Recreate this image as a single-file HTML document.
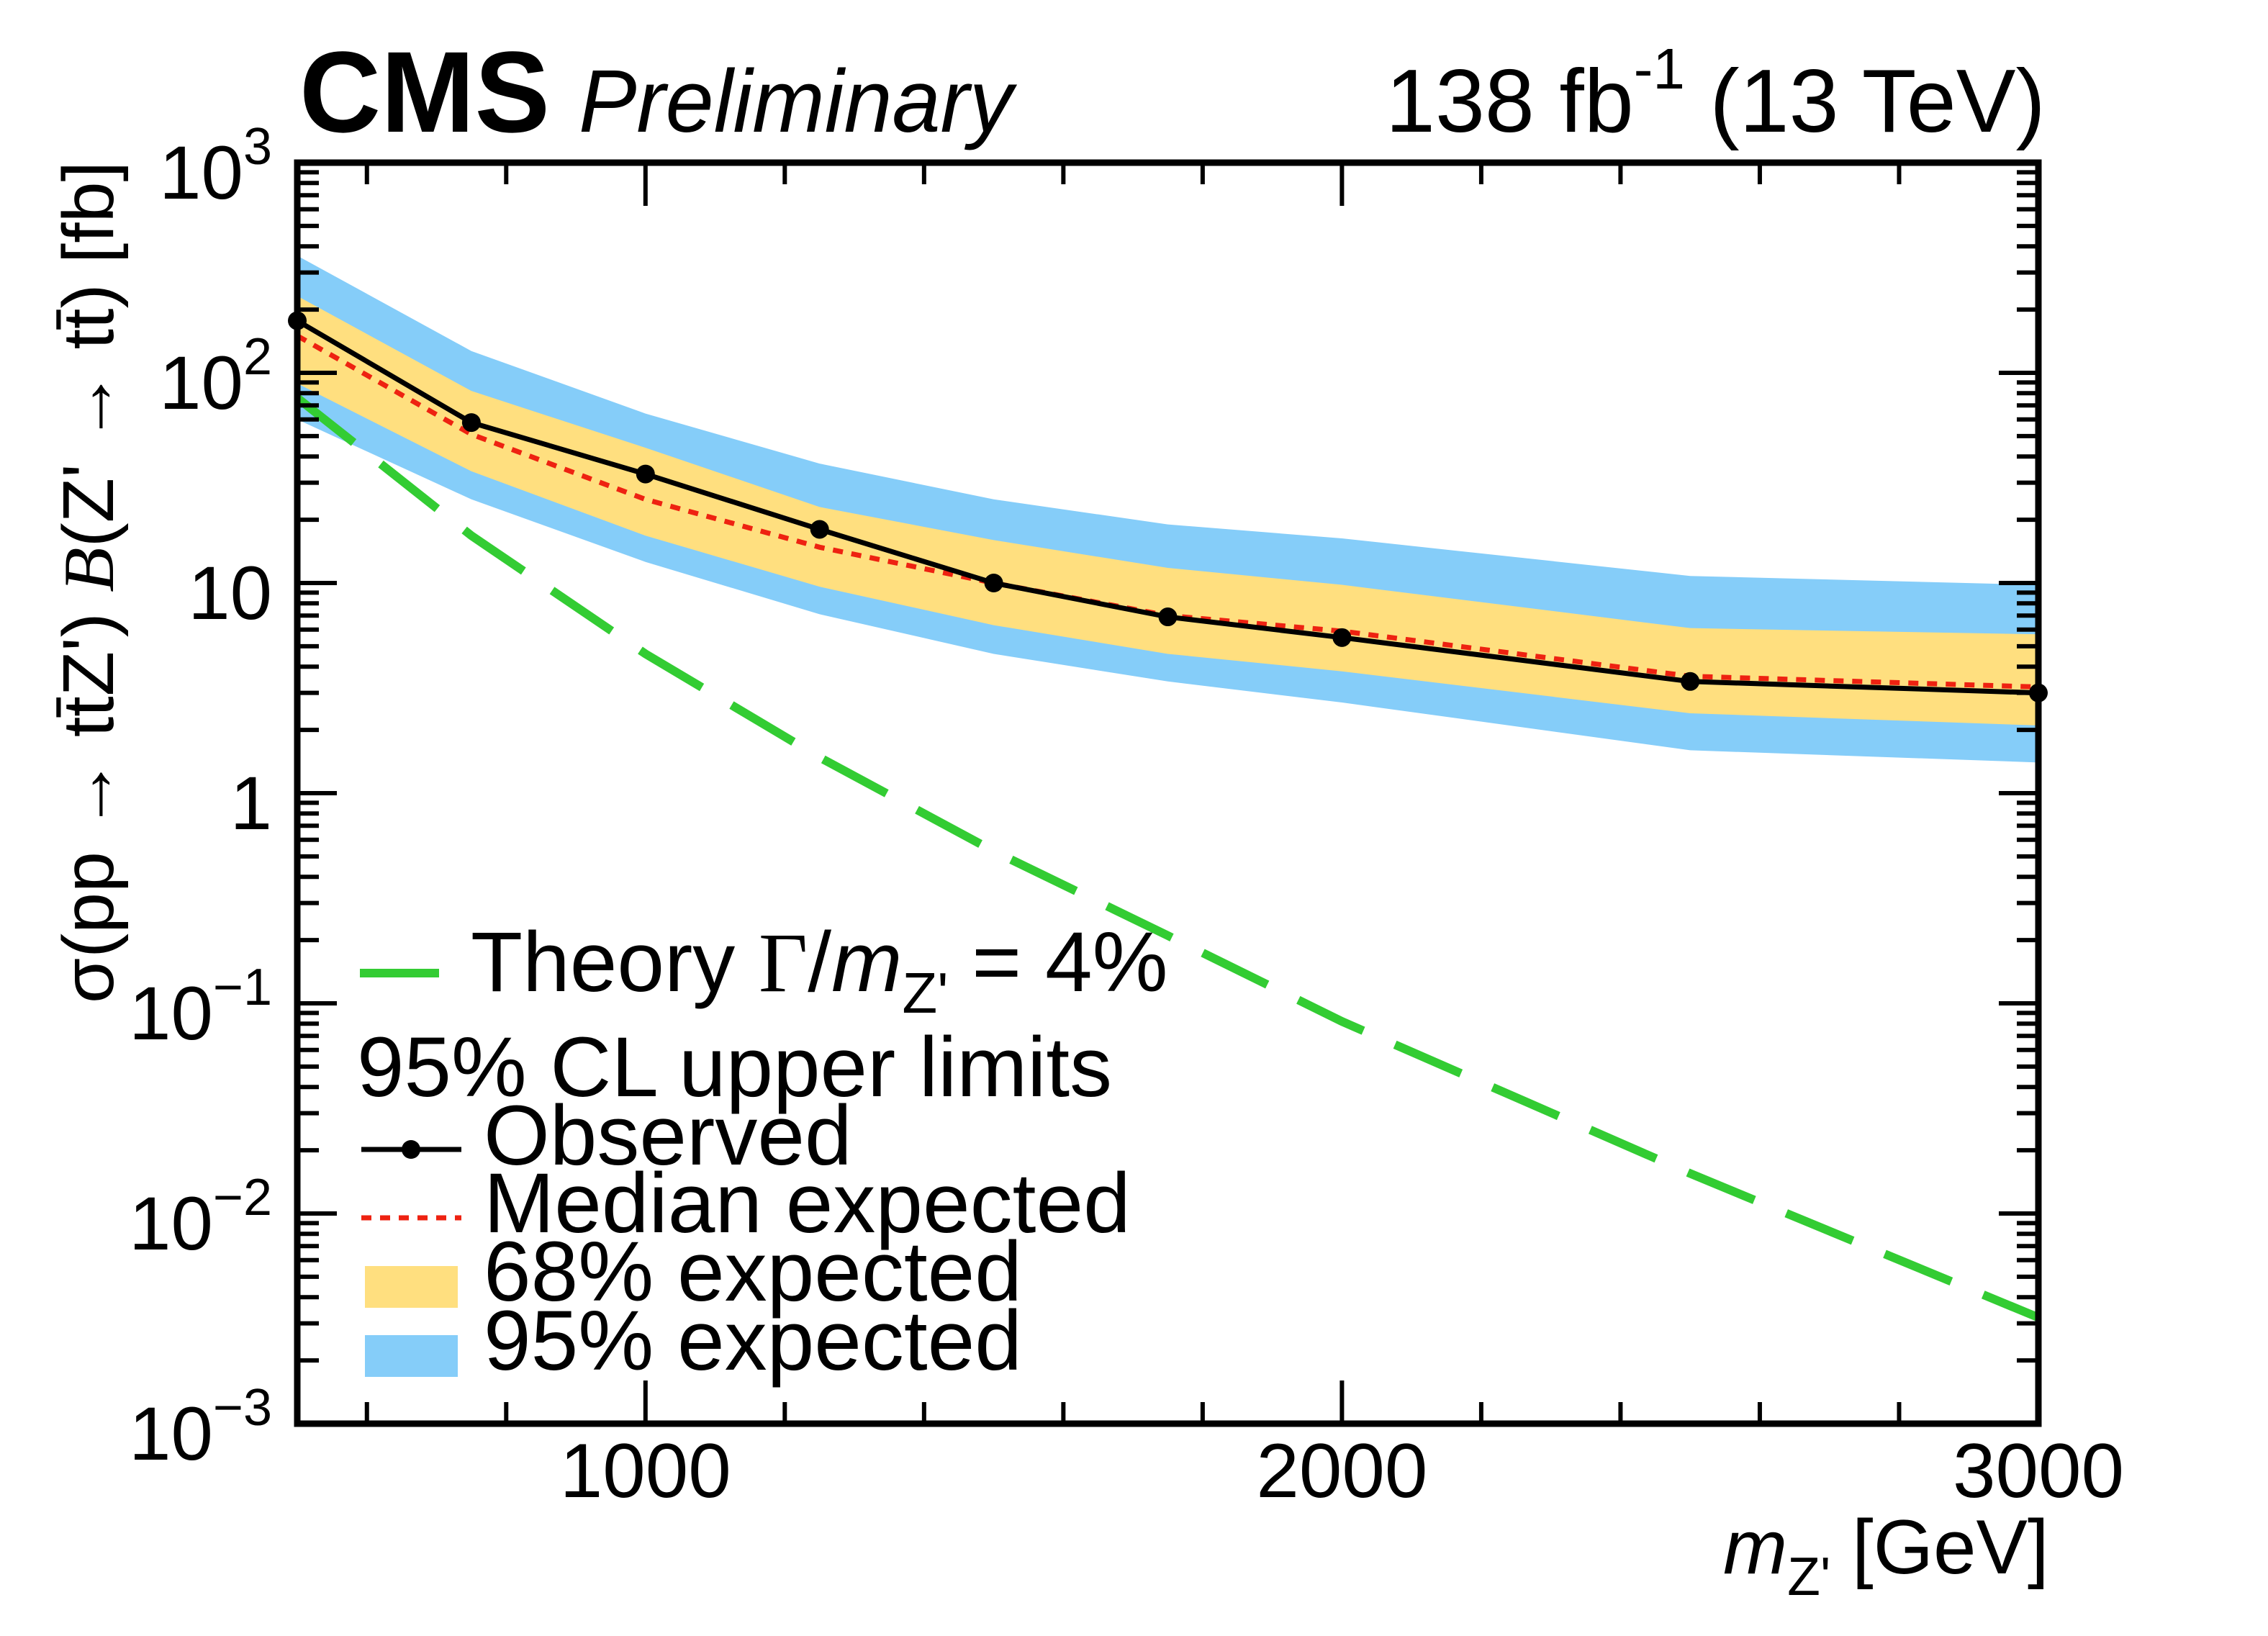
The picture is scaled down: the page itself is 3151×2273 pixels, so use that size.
<!DOCTYPE html>
<html><head><meta charset="utf-8"><style>
html,body{margin:0;padding:0;background:#fff;}
svg{display:block;font-family:"Liberation Sans",sans-serif;}
</style></head><body>
<svg id="chart" width="3151" height="2273" viewBox="0 0 3151 2273" xmlns="http://www.w3.org/2000/svg">
<rect width="3151" height="2273" fill="#fff"/>
<g id="bands"></g>
<g id="lines"></g>
<g id="axes"></g>
<g id="texts">
<text x="416" y="183" font-size="160" font-weight="bold" textLength="348" lengthAdjust="spacingAndGlyphs">CMS</text>
<text x="804" y="183" font-size="123" font-style="italic" textLength="603" lengthAdjust="spacingAndGlyphs">Preliminary</text>
<text x="1925" y="183" font-size="124">138 fb<tspan font-size="80" dy="-60">-1</tspan><tspan dy="60"> (13 TeV)</tspan></text>
<text x="2394" y="2186" font-size="107"><tspan font-style="italic">m</tspan><tspan font-size="75" dy="30">Z'</tspan><tspan dy="-30"> [GeV]</tspan></text>
<text transform="translate(157,1394) rotate(-90)" font-size="100" textLength="1170" lengthAdjust="spacingAndGlyphs">σ(pp → tt̄Z') <tspan font-family="Liberation Serif" font-style="italic">B</tspan>(Z' → tt̄) [fb]</text>
</g>
<g id="legend">
<line x1="500" y1="1352" x2="610" y2="1352" stroke="#33cc33" stroke-width="12"/>
<text x="654" y="1377" font-size="118">Theory <tspan font-family="Liberation Serif">Γ</tspan>/<tspan font-style="italic">m</tspan><tspan font-size="80" dy="30">Z'</tspan><tspan dy="-30"> = 4%</tspan></text>
<text x="496" y="1523" font-size="118" textLength="1049" lengthAdjust="spacingAndGlyphs">95% CL upper limits</text>
<line x1="502" y1="1597" x2="641" y2="1597" stroke="#000" stroke-width="7"/>
<circle cx="571" cy="1597" r="13" fill="#000"/>
<text x="672" y="1618" font-size="118">Observed</text>
<line x1="502" y1="1692" x2="641" y2="1692" stroke="#ee2211" stroke-width="7" stroke-dasharray="14,12"/>
<text x="672" y="1712" font-size="118">Median expected</text>
<rect x="507" y="1759" width="129" height="58" fill="#ffdf7f"/>
<text x="672" y="1807" font-size="118">68% expected</text>
<rect x="507" y="1855" width="129" height="58" fill="#85cdf9"/>
<text x="672" y="1903" font-size="118">95% expected</text>
</g>
</svg>
<script>
const masses = [500, 750, 1000, 1250, 1500, 1750, 2000, 2500, 3000];
const observed = [177, 58, 33, 18, 10, 6.9, 5.5, 3.4, 3.0];
const medianExp = [150, 51, 25, 14.8, 10, 7.0, 5.9, 3.6, 3.2];
const up68 = [232, 82, 44, 23, 16, 11.8, 9.8, 6.1, 5.7];
const lo68 = [89, 34, 16.8, 9.6, 6.3, 4.6, 3.8, 2.4, 2.1];
const up95 = [361, 127, 64, 37, 25, 19, 16.3, 10.8, 9.8];
const lo95 = [60, 25, 12.6, 7.1, 4.6, 3.4, 2.7, 1.6, 1.4];
const theory = [76, 16.8, 4.6, 1.48, 0.53, 0.21, 0.082, 0.0155, 0.0032];
const xTickLabels = [1000, 2000, 3000];
const yTickExps = [-3, -2, -1, 0, 1, 2, 3];

const NS = "http://www.w3.org/2000/svg";
const L = 413, R = 2832, T = 226, B = 1978;
const X0 = 500, X1 = 3000, YE0 = -3, YE1 = 3;
function xs(v){ return L + (v - X0) / (X1 - X0) * (R - L); }
function ys(v){ return B - (Math.log10(v) - YE0) / (YE1 - YE0) * (B - T); }
function mk(tag, attrs, parent){
  const e = document.createElementNS(NS, tag);
  for (const k in attrs) e.setAttribute(k, attrs[k]);
  parent.appendChild(e);
  return e;
}
const gB = document.getElementById('bands');
const gL = document.getElementById('lines');
const gA = document.getElementById('axes');

function bandPath(up, lo){
  let d = '';
  masses.forEach((m,i)=>{ d += (i?'L':'M') + xs(m) + ',' + ys(up[i]); });
  for (let i = masses.length-1; i >= 0; i--) d += 'L' + xs(masses[i]) + ',' + ys(lo[i]);
  return d + 'Z';
}
const b95 = mk('path', {d: bandPath(up95, lo95), fill: '#85cdf9'}, gB);


const b68 = mk('path', {d: bandPath(up68, lo68), fill: '#ffdf7f'}, gB);



function pts(arr){ return masses.map((m,i)=> xs(m) + ',' + ys(arr[i])).join(' '); }
const th = mk('polyline', {points: pts(theory), fill: 'none', stroke: '#33cc33', 'stroke-width': 12, 'stroke-dasharray': '100,48'}, gL);


const me = mk('polyline', {points: pts(medianExp), fill: 'none', stroke: '#ee2211', 'stroke-width': 7, 'stroke-dasharray': '14,12'}, gL);


const ob = mk('polyline', {points: pts(observed), fill: 'none', stroke: '#000', 'stroke-width': 7}, gL);


masses.forEach((m,i)=>{
  const c = mk('circle', {cx: xs(m), cy: ys(observed[i]), r: 13, fill: '#000'}, gL);
  
  
});

const fr = mk('rect', {x: L, y: T, width: R-L, height: B-T, fill: 'none', stroke: '#000', 'stroke-width': 9}, gA);



for (let v = 600; v < 3000; v += 200) {
  const maj = v % 1000 === 0;
  const len = maj ? 60 : 30;
  mk('line', {x1: xs(v), y1: B, x2: xs(v), y2: B-len, stroke: '#000', 'stroke-width': 6}, gA);
  mk('line', {x1: xs(v), y1: T, x2: xs(v), y2: T+len, stroke: '#000', 'stroke-width': 6}, gA);
}
xTickLabels.forEach(v=>{
  const t = mk('text', {x: xs(v), y: 2080, 'font-size': 107, 'text-anchor': 'middle'}, gA);
  t.textContent = v;
  
  
});
for (let e = YE0; e < YE1; e++) {
  for (let k = 1; k < 10; k++) {
    const v = k * Math.pow(10, e);
    const len = k === 1 ? 55 : 30;
    mk('line', {x1: L, y1: ys(v), x2: L+len, y2: ys(v), stroke: '#000', 'stroke-width': 6}, gA);
    mk('line', {x1: R, y1: ys(v), x2: R-len, y2: ys(v), stroke: '#000', 'stroke-width': 6}, gA);
  }
}
yTickExps.forEach(e=>{
  const y = ys(Math.pow(10, e)) + 50;
  const t = mk('text', {x: 378, y: y, 'font-size': 105, 'text-anchor': 'end'}, gA);
  
  
  if (e === 0) { t.textContent = '1'; }
  else if (e === 1) { t.textContent = '10'; }
  else {
    t.textContent = '10';
    const s = mk('tspan', {'font-size': 72, dy: -48}, t);
    s.textContent = e < 0 ? '\u2212' + (-e) : String(e);
  }
});
</script>
</body></html>
